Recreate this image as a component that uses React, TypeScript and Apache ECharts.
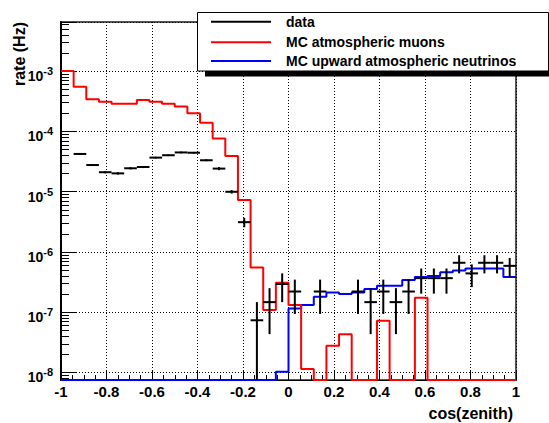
import React, { useEffect, useRef } from 'react';
import * as echarts from 'echarts';

const X_MIN = -1;
const X_MAX = 1;
const Y_MIN = 7.45e-9;
const Y_MAX = 6.5e-3;
const N_BINS = 36;

const X_TICK_LABELS = ['-1', '-0.8', '-0.6', '-0.4', '-0.2', '0', '0.2', '0.4', '0.6', '0.8', '1'];
const Y_TICK_EXPONENTS = [-8, -7, -6, -5, -4, -3];

const SERIES_NAMES = ['data', 'MC atmospheric muons', 'MC upward atmospheric neutrinos'];
const SERIES_COLORS = ['#000000', '#ff0000', '#0000ff'];

// MC atmospheric muons, per bin (0 = empty bin)
const muons = [
  1.0e-3, 5.5e-4, 3.4e-4, 3.1e-4, 2.85e-4, 2.85e-4, 3.3e-4, 3.1e-4, 2.85e-4, 2.57e-4,
  1.99e-4, 1.39e-4, 7.6e-5, 3.9e-5, 7.2e-6, 5.5e-7, 1.08e-7, 3.07e-7, 1.31e-7, 1.13e-8,
  0, 2.76e-8, 4.27e-8, 0, 0, 7.2e-8, 0, 0, 1.73e-7, 0,
  0, 0, 0, 0, 0, 0,
];

// MC upward atmospheric neutrinos, per bin
const neutrinos = [
  0, 0, 0, 0, 0, 0, 0, 0, 0, 0,
  0, 0, 0, 0, 0, 0, 0, 1.02e-8, 1.15e-7, 1.31e-7,
  1.8e-7, 2.1e-7, 2.0e-7, 2.1e-7, 2.4e-7, 2.74e-7, 2.74e-7, 3.4e-7, 3.8e-7, 3.96e-7,
  4.57e-7, 4.9e-7, 5.3e-7, 5.3e-7, 5.3e-7, 3.8e-7,
];

// data rate per bin (null = no entry) and its error
const dataRate = [
  null, 4.2e-5, 2.75e-5, 2.09e-5, 2.0e-5, 2.43e-5, 2.55e-5, 3.65e-5, 4.0e-5, 4.45e-5,
  4.4e-5, 3.3e-5, 2.4e-5, 9.9e-6, 3.1e-6, 7.3e-8, 1.46e-7, 2.92e-7, 2.19e-7, null,
  2.19e-7, null, null, 2.19e-7, 1.46e-7, 2.19e-7, 1.46e-7, 2.19e-7, 3.65e-7, 3.65e-7,
  3.65e-7, 6.57e-7, 4.38e-7, 6.57e-7, 6.57e-7, 5.84e-7,
];
const dataErr = [
  null, 1.2e-6, 1.0e-6, 0.9e-6, 0.9e-6, 1.0e-6, 1.0e-6, 1.2e-6, 1.3e-6, 1.4e-6,
  1.4e-6, 1.2e-6, 1.4e-6, 0.65e-6, 0.55e-6, 7.3e-8, 1.03e-7, 1.46e-7, 1.26e-7, null,
  1.26e-7, null, null, 1.26e-7, 1.03e-7, 1.26e-7, 1.03e-7, 1.26e-7, 1.63e-7, 1.63e-7,
  1.63e-7, 2.19e-7, 1.79e-7, 2.19e-7, 2.19e-7, 2.06e-7,
];

const FONT = '"Liberation Sans", Arial, Helvetica, sans-serif';

export default function App() {
  const ref = useRef<HTMLDivElement>(null);

  useEffect(() => {
    if (!ref.current) return;
    const chart = echarts.init(ref.current, null, { renderer: 'svg' });

    const edges: number[] = [];
    for (let i = 0; i <= N_BINS; i++) edges.push(X_MIN + (i * (X_MAX - X_MIN)) / N_BINS);

    const histPoints = (vals: number[]) => {
      const pts: number[][] = [];
      vals.forEach((v, i) => {
        const y = v > 0 ? v : Y_MIN;
        pts.push([edges[i], y]);
        pts.push([edges[i + 1], y]);
      });
      return pts;
    };

    const crossItems: number[][] = [];
    dataRate.forEach((v, i) => {
      if (v != null) crossItems.push([edges[i], edges[i + 1], v, dataErr[i] as number]);
    });

    const minorVals: number[][] = [];
    for (let e = -9; e <= -3; e++) {
      for (let m = 2; m <= 9; m++) {
        const v = m * Math.pow(10, e);
        if (v > Y_MIN && v < Y_MAX) minorVals.push([X_MIN, v]);
      }
    }

    const legendYs = [21.7, 42.3, 61];

    const option: any = {
      animation: false,
      backgroundColor: '#ffffff',
      grid: {
        left: 61,
        right: 33,
        top: 22,
        bottom: 43,
        show: true,
        borderColor: '#555555',
        borderWidth: 2,
        backgroundColor: 'transparent',
      },
      xAxis: {
        type: 'value',
        min: X_MIN,
        max: X_MAX,
        interval: 0.2,
        axisLine: { show: true, onZero: false, lineStyle: { color: '#000', width: 1 } },
        axisTick: { show: true, inside: true, length: 10, lineStyle: { color: '#000', width: 1 } },
        minorTick: { show: true, splitNumber: 4, length: 5, lineStyle: { color: '#000', width: 1 } },
        splitLine: { show: true, lineStyle: { color: '#000', width: 1, type: [1, 2] } },
        axisLabel: {
          margin: 4,
          fontFamily: FONT,
          fontWeight: 'bold',
          fontSize: 15,
          color: '#000',
          formatter: (v: number) => {
            const idx = Math.round((v - X_MIN) / 0.2);
            return X_TICK_LABELS[idx] ?? '';
          },
        },
      },
      yAxis: {
        type: 'log',
        logBase: 10,
        min: Y_MIN,
        max: Y_MAX,
        axisLine: { show: true, onZero: false, lineStyle: { color: '#000', width: 2 } },
        axisTick: { show: true, inside: true, length: 15, lineStyle: { color: '#000', width: 1 } },
        splitLine: { show: true, lineStyle: { color: '#000', width: 1, type: [1, 2] } },
        axisLabel: {
          margin: 8,
          color: '#000',
          fontFamily: FONT,
          fontWeight: 'bold',
          formatter: (v: number) => {
            const e = Math.log10(v);
            const r = Math.round(e);
            if (Math.abs(e - r) > 1e-6 || Y_TICK_EXPONENTS.indexOf(r) < 0) return '';
            return '{b|10}{s|' + r + '}';
          },
          rich: {
            b: { fontSize: 14, fontWeight: 'bold', fontFamily: FONT, lineHeight: 14, verticalAlign: 'bottom', color: '#000' },
            s: { fontSize: 11, fontWeight: 'bold', fontFamily: FONT, lineHeight: 24, verticalAlign: 'middle', color: '#000' },
          },
        },
      },
      series: [
        {
          name: SERIES_NAMES[2],
          type: 'line',
          data: histPoints(neutrinos),
          showSymbol: false,
          clip: false,
          lineStyle: { color: SERIES_COLORS[2], width: 2 },
          z: 3,
        },
        {
          name: SERIES_NAMES[1],
          type: 'line',
          data: histPoints(muons),
          showSymbol: false,
          clip: false,
          lineStyle: { color: SERIES_COLORS[1], width: 2 },
          z: 4,
        },
        {
          name: SERIES_NAMES[0],
          type: 'custom',
          data: crossItems,
          dimensions: ['lo', 'hi', 'rate', 'err'],
          encode: { x: [0, 1], y: 2 },
          z: 5,
          renderItem: (params: any, api: any) => {
            const lo = api.value(0);
            const hi = api.value(1);
            const v = api.value(2);
            const e = api.value(3);
            const mid = (lo + hi) / 2;
            const low = Math.max(v - e, Y_MIN);
            const pL = api.coord([lo, v]);
            const pR = api.coord([hi, v]);
            const pT = api.coord([mid, v + e]);
            const pB = api.coord([mid, low]);
            return {
              type: 'group',
              children: [
                { type: 'line', shape: { x1: pL[0], y1: pL[1], x2: pR[0], y2: pR[1] }, style: { stroke: SERIES_COLORS[0], lineWidth: 2 } },
                { type: 'line', shape: { x1: pT[0], y1: pT[1], x2: pB[0], y2: pB[1] }, style: { stroke: SERIES_COLORS[0], lineWidth: 2 } },
              ],
            };
          },
        },
        {
          type: 'custom',
          data: minorVals,
          encode: { x: 0, y: 1 },
          z: 6,
          silent: true,
          renderItem: (params: any, api: any) => {
            const p = api.coord([api.value(0), api.value(1)]);
            const y = Math.round(p[1]) + 0.5;
            return {
              type: 'line',
              shape: { x1: p[0], y1: y, x2: p[0] + 8, y2: y },
              style: { stroke: '#000', lineWidth: 1 },
            };
          },
        },
      ],
      graphic: [
        { type: 'rect', z: 100, shape: { x: 205, y: 71, width: 350, height: 5.5 }, style: { fill: '#000' } },
        { type: 'rect', z: 101, shape: { x: 197.5, y: 12.5, width: 351, height: 58.5 }, style: { fill: '#fff', stroke: '#000', lineWidth: 1 } },
        ...SERIES_NAMES.map((name, i) => ({
          type: 'line',
          z: 102,
          shape: { x1: 211, y1: legendYs[i], x2: 271, y2: legendYs[i] },
          style: { stroke: SERIES_COLORS[i], lineWidth: 2 },
        })),
        ...SERIES_NAMES.map((name, i) => ({
          type: 'text',
          z: 102,
          x: 286,
          y: legendYs[i],
          style: { text: name, fill: '#000', font: 'bold 14px ' + FONT, verticalAlign: 'middle', align: 'left' },
        })),
        {
          type: 'text',
          z: 102,
          x: 19.5,
          y: 22,
          rotation: Math.PI / 2,
          style: { text: 'rate (Hz)', fill: '#000', font: 'bold 16px ' + FONT, align: 'right', verticalAlign: 'middle' },
        },
        {
          type: 'text',
          z: 102,
          x: 513,
          y: 413,
          style: { text: 'cos(zenith)', fill: '#000', font: 'bold 16px ' + FONT, align: 'right', verticalAlign: 'middle' },
        },
      ],
    };

    chart.setOption(option);
    return () => chart.dispose();
  }, []);

  return (
    <div
      ref={ref}
      style={{ position: 'absolute', left: 0, top: 0, width: 549, height: 423, background: '#fff' }}
    />
  );
}
